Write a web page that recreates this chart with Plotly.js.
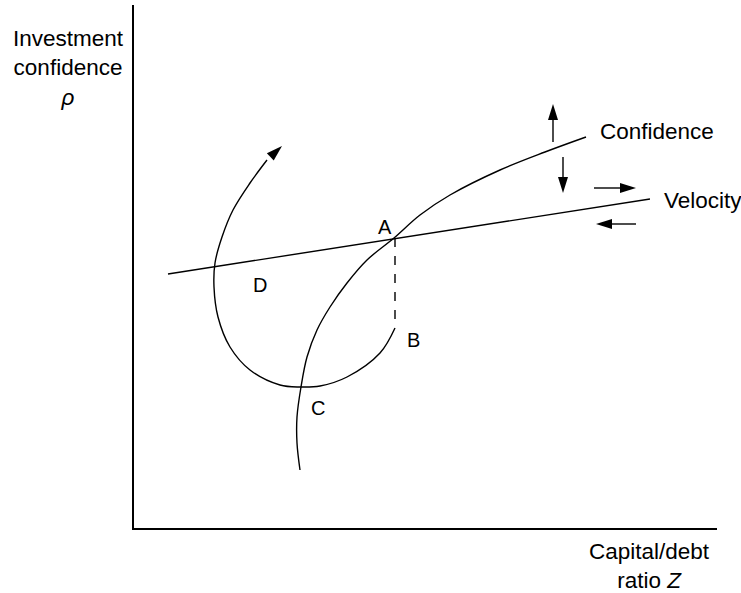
<!DOCTYPE html>
<html>
<head>
<meta charset="utf-8">
<script src="https://cdn.plot.ly/plotly-3.0.1.min.js"></script>
<style>html,body{margin:0;padding:0;background:#fff;}#chart{width:741px;height:593px;}</style>
</head>
<body>
<div id="chart"></div>
<script>
// Schematic curves (x = capital/debt ratio Z, y = investment confidence rho), arbitrary units
const confidenceX = [300, 297, 297, 301, 307, 317, 330, 347, 367, 394, 420, 450, 500, 545, 586];
const confidenceY = [58, 85, 111, 141, 171, 198, 221, 245, 268, 290, 313, 333, 358, 376, 391];

const velocityX = [168, 650];
const velocityY = [254, 329];

const pathX = [395, 380, 347, 320, 300, 280, 250, 230, 218, 214, 215, 222, 233, 250, 267, 282];
const pathY = [200, 175, 151, 142, 141, 143, 158, 181, 211, 241, 265, 291, 318, 345, 368, 382];

const dropX = [395, 395];
const dropY = [290, 200];

// shift arrows: [[x0, x1], [y0, y1]]
const arrowUp = [[553, 553], [386, 424]];
const arrowDown = [[563, 563], [371, 335]];
const arrowRight = [[594, 636], [340, 340]];
const arrowLeft = [[636, 596], [304, 304]];

const pointLabels = ['A', 'B', 'C', 'D'];
const pointX = [385, 413, 318, 260];
const pointY = [301, 188, 120, 243];

const FONT = 'Liberation Sans, Arial, Helvetica, sans-serif';
const LW = 1.4;
const HEAD_LEN = 16;
const HEAD_HALF = 5;

// arrowhead triangle at the end of a polyline (axes are 1 unit per pixel on both axes)
function headShape(xs, ys) {
  const n = xs.length;
  const x1 = xs[n - 1], y1 = ys[n - 1], x0 = xs[n - 2], y0 = ys[n - 2];
  const dx = x1 - x0, dy = y1 - y0, L = Math.hypot(dx, dy);
  const ux = dx / L, uy = dy / L, px = -uy, py = ux;
  const bx = x1 - ux * HEAD_LEN, by = y1 - uy * HEAD_LEN;
  const p = 'M' + x1 + ',' + y1 +
    ' L' + (bx + px * HEAD_HALF) + ',' + (by + py * HEAD_HALF) +
    ' L' + (bx - px * HEAD_HALF) + ',' + (by - py * HEAD_HALF) + ' Z';
  return {type: 'path', xref: 'x', yref: 'y', path: p, fillcolor: '#000', line: {width: 0}, layer: 'above'};
}

function shaftTrace(a) {
  // stop the shaft inside the head so the tip stays sharp
  const n = a[0].length;
  const xs = a[0].slice(), ys = a[1].slice();
  const dx = xs[n - 1] - xs[n - 2], dy = ys[n - 1] - ys[n - 2], L = Math.hypot(dx, dy);
  xs[n - 1] = xs[n - 1] - dx / L * (HEAD_LEN - 2);
  ys[n - 1] = ys[n - 1] - dy / L * (HEAD_LEN - 2);
  return {x: xs, y: ys, mode: 'lines', type: 'scatter', hoverinfo: 'skip', line: {color: '#000', width: LW}};
}

const traces = [
  {x: confidenceX, y: confidenceY, mode: 'lines', type: 'scatter', line: {color: '#000', width: LW, shape: 'spline'}, hoverinfo: 'skip'},
  {x: velocityX, y: velocityY, mode: 'lines', type: 'scatter', line: {color: '#000', width: LW}, hoverinfo: 'skip'},
  {x: pathX.slice(0, -1), y: pathY.slice(0, -1), mode: 'lines', type: 'scatter', line: {color: '#000', width: LW, shape: 'spline'}, hoverinfo: 'skip'},
  {x: dropX, y: dropY, mode: 'lines', type: 'scatter', line: {color: '#000', width: LW, dash: 'dash'}, hoverinfo: 'skip'},
  shaftTrace(arrowUp), shaftTrace(arrowDown), shaftTrace(arrowRight), shaftTrace(arrowLeft)
];

const shapes = [
  headShape(arrowUp[0], arrowUp[1]), headShape(arrowDown[0], arrowDown[1]),
  headShape(arrowRight[0], arrowRight[1]), headShape(arrowLeft[0], arrowLeft[1]),
  headShape(pathX, pathY)
];

const annotations = pointLabels.map((t, i) => ({
  x: pointX[i], y: pointY[i], xref: 'x', yref: 'y', text: t, showarrow: false,
  xanchor: 'center', yanchor: 'middle',
  font: {family: FONT, size: 20, color: '#000'}
}));

annotations.push(
  {x: 598, y: 397, xref: 'x', yref: 'y', text: 'Confidence', xanchor: 'left', yanchor: 'middle', showarrow: false,
   font: {family: FONT, size: 22.5, color: '#000'}},
  {x: 662, y: 328, xref: 'x', yref: 'y', text: 'Velocity', xanchor: 'left', yanchor: 'middle', showarrow: false,
   font: {family: FONT, size: 22.5, color: '#000'}},
  {x: -0.113, y: 0.88, xref: 'paper', yref: 'paper', text: 'Investment<br>confidence<br><i>ρ</i>',
   xanchor: 'center', yanchor: 'middle',
   showarrow: false, align: 'center', font: {family: FONT, size: 22.5, color: '#000'}},
  {x: 0.885, y: -0.072, xref: 'paper', yref: 'paper', text: 'Capital/debt<br>ratio <i>Z</i>',
   xanchor: 'center', yanchor: 'middle',
   showarrow: false, align: 'center', font: {family: FONT, size: 22.5, color: '#000'}}
);

const layout = {
  width: 741, height: 593,
  margin: {l: 134, r: 24, t: 5, b: 65, pad: 0, autoexpand: false},
  paper_bgcolor: '#fff', plot_bgcolor: '#fff',
  showlegend: false,
  xaxis: {range: [134, 717], showline: true, linecolor: '#000', linewidth: 1.6, showgrid: false,
          zeroline: false, showticklabels: false, ticks: ''},
  yaxis: {range: [0, 523], showline: true, linecolor: '#000', linewidth: 1.6, showgrid: false,
          zeroline: false, showticklabels: false, ticks: ''},
  shapes: shapes,
  annotations: annotations
};

Plotly.newPlot('chart', traces, layout, {displayModeBar: false, staticPlot: true});
</script>
</body>
</html>
